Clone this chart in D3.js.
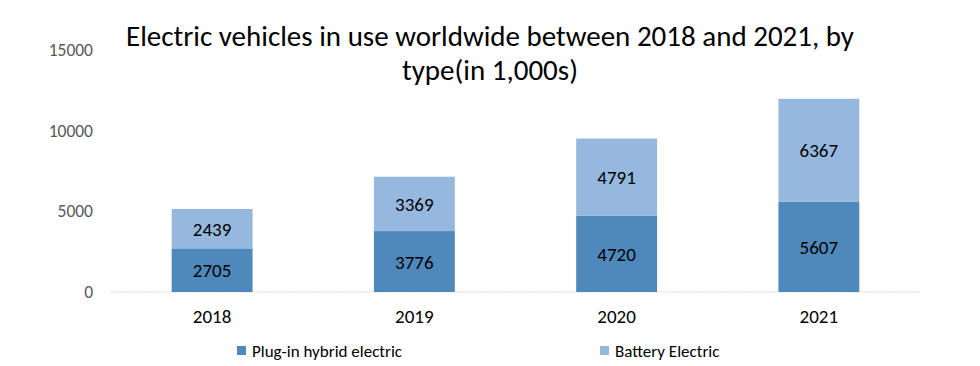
<!DOCTYPE html>
<html>
<head>
<meta charset="utf-8">
<script src="https://cdn.jsdelivr.net/npm/d3@7"></script>
<style>
body { margin: 0; background: #fff; }
svg { font-family: Carlito, Lato, "Liberation Sans", sans-serif; }
</style>
</head>
<body>
<div id="chart"></div>
<script>
const years = ["2018", "2019", "2020", "2021"];
const plugin = [2705, 3776, 4720, 5607];
const battery = [2439, 3369, 4791, 6367];
const seriesNames = ["Plug-in hybrid electric", "Battery Electric"];
const yTicks = [0, 5000, 10000, 15000];
const colors = ["#4f88bb", "#96b8de"];

const width = 980, height = 366;
const svg = d3.select("#chart").append("svg")
    .attr("width", width).attr("height", height);

const x = d3.scaleBand().domain(years).range([111, 920]).paddingInner(0.6).paddingOuter(0.3);
const y = d3.scaleLinear().domain([0, 15000]).range([292, 50]);

// baseline
svg.append("line")
    .attr("x1", 111).attr("x2", 920)
    .attr("y1", y(0)).attr("y2", y(0))
    .attr("stroke", "#d9d9d9").attr("stroke-dasharray", "2,1");

// y labels
svg.selectAll(".ytick").data(yTicks).join("text")
    .attr("x", 93).attr("y", d => y(d) + 6)
    .attr("text-anchor", "end").attr("fill", "#595959")
    .attr("font-size", 17.5).text(d => d);

const rows = years.map((yr, i) => ({ year: yr, vals: [plugin[i], battery[i]] }));

rows.forEach(r => {
    let base = 0;
    r.vals.forEach((v, j) => {
        svg.append("rect")
            .attr("x", x(r.year)).attr("width", x.bandwidth())
            .attr("y", y(base + v)).attr("height", y(base) - y(base + v))
            .attr("fill", colors[j]);
        svg.append("text")
            .attr("x", x(r.year) + x.bandwidth() / 2)
            .attr("y", y(base + v / 2) + 7)
            .attr("text-anchor", "middle").attr("font-size", 19).attr("fill", "#000")
            .text(v);
        base += v;
    });
});

// x labels
svg.selectAll(".xl").data(years).join("text")
    .attr("x", d => x(d) + x.bandwidth() / 2).attr("y", 323)
    .attr("text-anchor", "middle").attr("font-size", 19).attr("fill", "#000")
    .text(d => d);

// title
svg.append("text").attr("x", 490).attr("y", 46).attr("text-anchor", "middle")
    .attr("font-size", 29).attr("fill", "#000")
    .text("Electric vehicles in use worldwide between 2018 and 2021, by");
svg.append("text").attr("x", 490).attr("y", 80).attr("text-anchor", "middle")
    .attr("font-size", 29).attr("fill", "#000")
    .text("type(in 1,000s)");

// legend
const legX = [237, 600];
seriesNames.forEach((n, i) => {
    svg.append("rect").attr("x", legX[i]).attr("y", 346).attr("width", 9).attr("height", 9)
        .attr("fill", colors[i]);
    svg.append("text").attr("x", legX[i] + 15).attr("y", 357)
        .attr("font-size", 17).attr("fill", "#000").text(n);
});
</script>
</body>
</html>
